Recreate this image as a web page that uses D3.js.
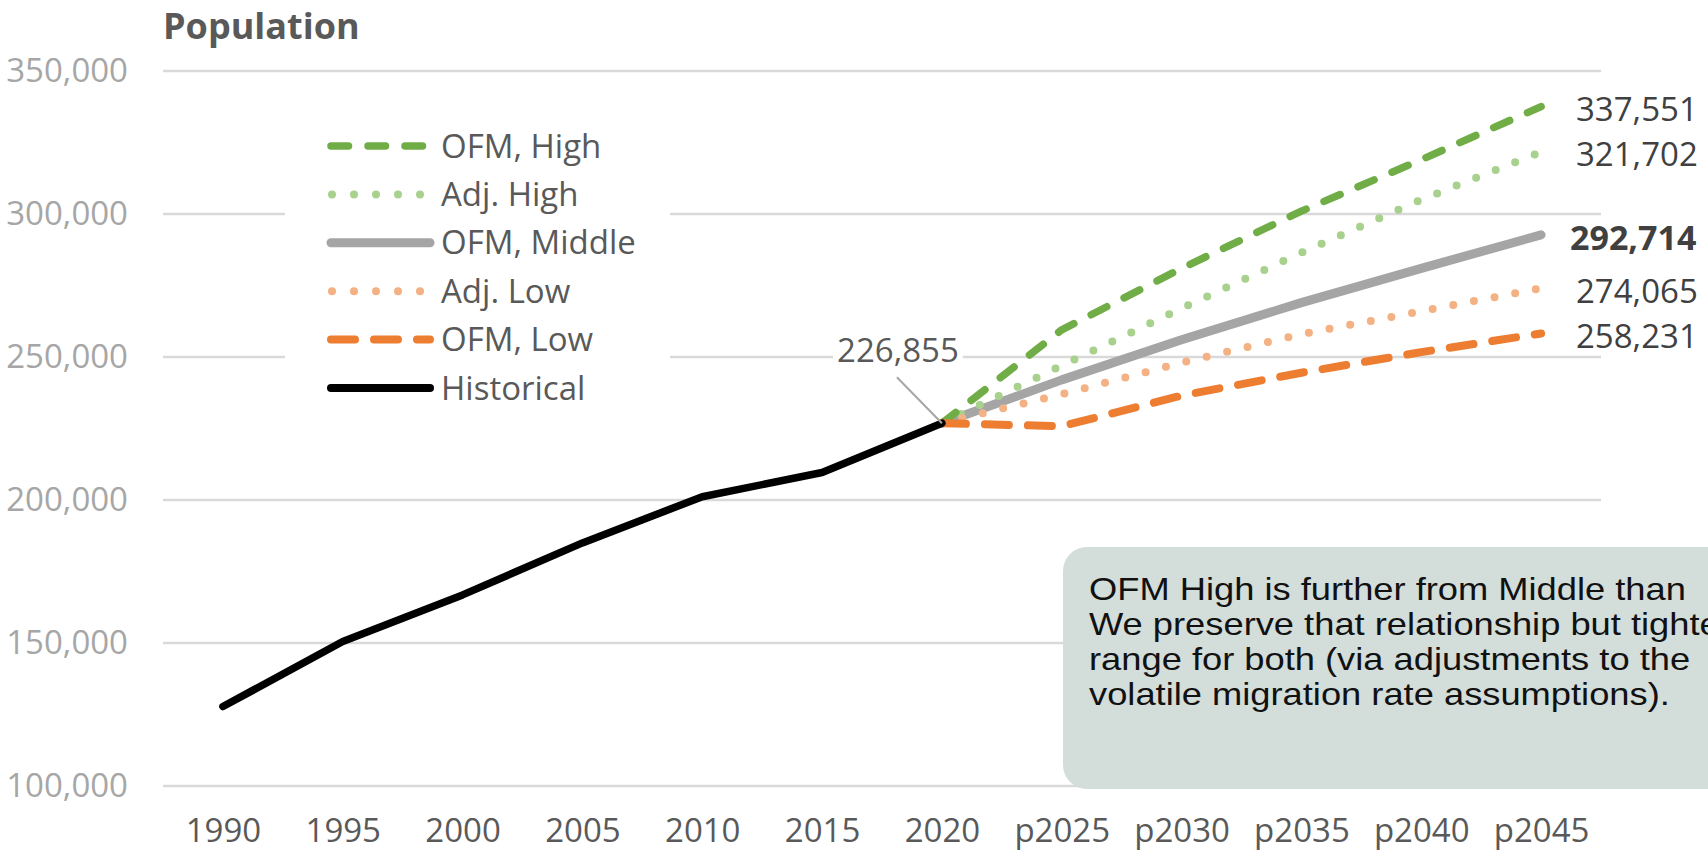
<!DOCTYPE html>
<html>
<head>
<meta charset="utf-8">
<script src="https://cdn.jsdelivr.net/npm/d3@7"></script>
<style>
  html, body { margin: 0; padding: 0; background: #fff; overflow: hidden; }
  svg { display: block; }
</style>
</head>
<body>
<svg id="chart" width="1708" height="853"></svg>
<script>
// ---------------- data ----------------
const categories = ["1990","1995","2000","2005","2010","2015","2020","p2025","p2030","p2035","p2040","p2045"];
const yTicks = [100000, 150000, 200000, 250000, 300000, 350000];

const historical = [127780, 150500, 166814, 185000, 201140, 209600, 226855, null, null, null, null, null];
const ofmHigh    = [null, null, null, null, null, null, 226855, 259500, 281000, 301000, 319000, 337551];
const adjHigh    = [null, null, null, null, null, null, 226855, 247000, 267000, 286500, 305000, 321702];
const ofmMiddle  = [null, null, null, null, null, null, 226855, 242000, 256000, 269000, 281000, 292714];
const adjLow     = [null, null, null, null, null, null, 226855, 237000, 248000, 258000, 266000, 274065];
const ofmLow     = [null, null, null, null, null, null, 226855, 225800, 236500, 244500, 251700, 258231];

const seriesNames = ["OFM, High", "Adj. High", "OFM, Middle", "Adj. Low", "OFM, Low", "Historical"];
const endLabels = ["337,551", "321,702", "292,714", "274,065", "258,231"];
const baseLabel = "226,855";
const title = "Population";
const noteLines = [
  "OFM High is further from Middle than",
  "We preserve that relationship but tighten",
  "range for both (via adjustments to the",
  "volatile migration rate assumptions)."
];

// ---------------- styles ----------------
const styles = {
  "OFM, High":   { color: "#70ad47", width: 7.5, dash: "17.5,19.5" },
  "Adj. High":   { color: "#a9d18e", width: 8,   dash: "0,21" },
  "OFM, Middle": { color: "#a5a5a5", width: 9,   dash: null },
  "Adj. Low":    { color: "#f4b183", width: 8,   dash: "0,21" },
  "OFM, Low":    { color: "#ed7d31", width: 8,   dash: "24,19" },
  "Historical":  { color: "#000000", width: 7.5, dash: null }
};
const seriesData = {
  "OFM, High": ofmHigh, "Adj. High": adjHigh, "OFM, Middle": ofmMiddle,
  "Adj. Low": adjLow, "OFM, Low": ofmLow, "Historical": historical
};

const svg = d3.select("#chart");
const x = d3.scalePoint().domain(categories).range([163, 1601]).padding(0.5);
const y = d3.scaleLinear().domain([100000, 350000]).range([786, 71]);
const fmt = d3.format(",");
const uiFont = "'Open Sans', 'Noto Sans', sans-serif";

// gridlines
svg.append("g").selectAll("line").data(yTicks).join("line")
  .attr("x1", 163).attr("x2", 1601)
  .attr("y1", d => y(d)).attr("y2", d => y(d))
  .attr("stroke", "#d9d9d9").attr("stroke-width", 2.5);

// y axis labels
const yAxis = d3.axisLeft(y).tickValues(yTicks).tickFormat(fmt).tickSize(0).tickPadding(0);
const yg = svg.append("g").attr("transform", "translate(128,0)").call(yAxis);
yg.select(".domain").remove();
yg.selectAll("text").attr("font-family", uiFont).attr("font-size", 33).attr("fill", "#a6a6a6");

// x axis labels
const xAxis = d3.axisBottom(x).tickSize(0).tickPadding(0);
const xg = svg.append("g").attr("transform", "translate(0,819)").call(xAxis);
xg.select(".domain").remove();
xg.selectAll("text").attr("font-family", uiFont).attr("font-size", 33).attr("fill", "#595959");

// title
svg.append("text").attr("x", 163).attr("y", 39).text(title)
  .attr("font-family", uiFont).attr("font-weight", "bold").attr("font-size", 36).attr("fill", "#595959");

// legend background (covers gridlines)
svg.append("rect").attr("x", 285).attr("y", 112).attr("width", 385).attr("height", 300).attr("fill", "#fff");

// lines
const line = d3.line()
  .defined(d => d != null)
  .x((d, i) => x(categories[i]))
  .y(d => y(d));

const drawOrder = ["OFM, Middle", "Adj. High", "OFM, High", "Adj. Low", "OFM, Low", "Historical"];
drawOrder.forEach(name => {
  const s = styles[name];
  svg.append("path")
    .attr("d", line(seriesData[name]))
    .attr("fill", "none")
    .attr("stroke", s.color)
    .attr("stroke-width", s.width)
    .attr("stroke-linecap", "round")
    .attr("stroke-linejoin", "round")
    .attr("stroke-dasharray", s.dash);
});

// legend
const lg = svg.append("g");
seriesNames.forEach((name, i) => {
  const s = styles[name];
  const ly = 146 + i * 48.4;
  lg.append("line").attr("x1", name.startsWith("Adj") ? 332 : 331).attr("x2", 430)
    .attr("y1", ly).attr("y2", ly)
    .attr("stroke", s.color).attr("stroke-width", s.width + (name === "Historical" ? 0.5 : 0))
    .attr("stroke-linecap", "round").attr("stroke-dasharray", name.startsWith("Adj") ? "0,22" : s.dash);
  lg.append("text").attr("x", 441).attr("y", ly).attr("dy", "0.35em").text(name)
    .attr("font-family", uiFont).attr("font-size", 33).attr("fill", "#595959");
});

// end value labels
const endSeries = ["OFM, High", "Adj. High", "OFM, Middle", "Adj. Low", "OFM, Low"];
endSeries.forEach((name, i) => {
  const v = seriesData[name][categories.length - 1];
  const bold = name === "OFM, Middle";
  svg.append("text").attr("x", bold ? 1570 : 1576).attr("y", y(v) + 3).attr("dy", "0.35em")
    .text(endLabels[i])
    .attr("font-family", uiFont).attr("font-size", bold ? 34 : 33)
    .attr("font-weight", bold ? "bold" : "normal")
    .attr("fill", "#404040");
});

// base label with leader line
const bx = x("2020"), by = y(historical[6]);
svg.append("line").attr("x1", bx - 45).attr("y1", by - 46).attr("x2", bx).attr("y2", by)
  .attr("stroke", "#a6a6a6").attr("stroke-width", 2);
const bl = svg.append("g");
const blText = bl.append("text").attr("x", bx - 44).attr("y", by - 73).attr("dy", "0.35em")
  .attr("text-anchor", "middle").text(baseLabel)
  .attr("font-family", uiFont).attr("font-size", 33).attr("fill", "#595959");
const bb = blText.node().getBBox();
bl.insert("rect", "text").attr("x", bb.x - 4).attr("y", bb.y + 5).attr("width", bb.width + 8).attr("height", bb.height - 10).attr("fill", "#fff");

// annotation box (extends past the right edge, as in the original)
const note = svg.append("g");
note.append("rect").attr("x", 1063).attr("y", 547).attr("width", 700).attr("height", 242)
  .attr("rx", 24).attr("fill", "#d3ddd9");
noteLines.forEach((t, i) => {
  note.append("text")
    .attr("transform", `translate(1089,${600 + i * 35}) scale(1.19,1)`)
    .text(t)
    .attr("font-family", "'Liberation Sans', Arial, sans-serif").attr("font-size", 30.5).attr("fill", "#111");
});
</script>
</body>
</html>
